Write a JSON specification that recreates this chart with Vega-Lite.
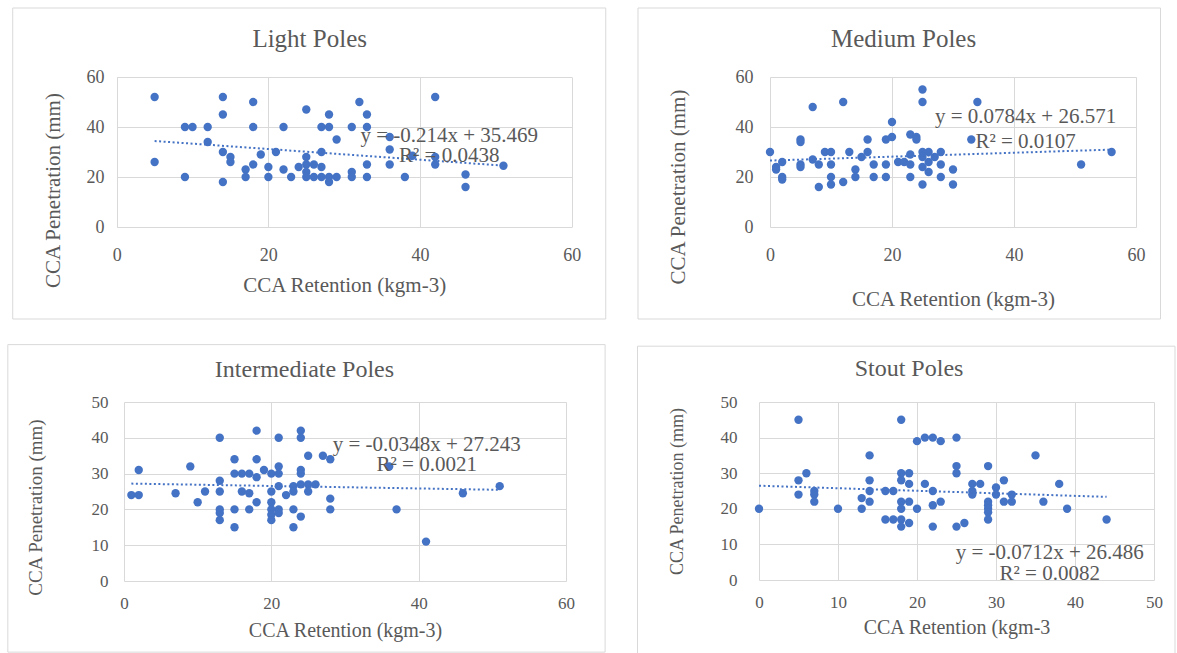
{
  "$schema": "https://vega.github.io/schema/vega-lite/v6.json",
  "background": "white",
  "padding": {"left": 7, "top": 7, "right": 0, "bottom": 0},
  "config": {
    "font": "Liberation Serif",
    "view": {"stroke": null},
    "axis": {"grid": true, "gridColor": "#d9d9d9", "gridWidth": 1, "domain": false, "ticks": false, "labelFlush": false, "labelOverlap": false, "labelColor": "#595959", "titleColor": "#595959", "labelFont": "Liberation Serif", "titleFont": "Liberation Serif", "titleFontWeight": "normal", "labelFontSize": 18, "titleFontSize": 21},
    "point": {"filled": true, "color": "#4472C4", "opacity": 1, "size": 70}
  },
  "datasets": {
    "light": [
      {"retention": 5, "penetration": 52}, {"retention": 5, "penetration": 26}, {"retention": 9, "penetration": 20}, {"retention": 9, "penetration": 40}, {"retention": 10, "penetration": 40}, {"retention": 12, "penetration": 40}, {"retention": 12, "penetration": 34}, {"retention": 14, "penetration": 52}, {"retention": 14, "penetration": 45}, {"retention": 14, "penetration": 30}, {"retention": 14, "penetration": 18}, {"retention": 15, "penetration": 28}, {"retention": 15, "penetration": 26}, {"retention": 17, "penetration": 23}, {"retention": 17, "penetration": 20}, {"retention": 18, "penetration": 25}, {"retention": 18, "penetration": 50}, {"retention": 18, "penetration": 40}, {"retention": 19, "penetration": 29}, {"retention": 20, "penetration": 24}, {"retention": 20, "penetration": 20}, {"retention": 21, "penetration": 30}, {"retention": 22, "penetration": 40}, {"retention": 22, "penetration": 23}, {"retention": 23, "penetration": 20}, {"retention": 24, "penetration": 24}, {"retention": 25, "penetration": 28}, {"retention": 25, "penetration": 25}, {"retention": 25, "penetration": 22}, {"retention": 25, "penetration": 47}, {"retention": 25, "penetration": 20}, {"retention": 26, "penetration": 25}, {"retention": 26, "penetration": 20}, {"retention": 27, "penetration": 30}, {"retention": 27, "penetration": 24}, {"retention": 27, "penetration": 40}, {"retention": 27, "penetration": 20}, {"retention": 28, "penetration": 45}, {"retention": 28, "penetration": 40}, {"retention": 28, "penetration": 18}, {"retention": 28, "penetration": 20}, {"retention": 29, "penetration": 35}, {"retention": 29, "penetration": 20}, {"retention": 31, "penetration": 40}, {"retention": 31, "penetration": 22}, {"retention": 31, "penetration": 20}, {"retention": 32, "penetration": 50}, {"retention": 33, "penetration": 45}, {"retention": 33, "penetration": 40}, {"retention": 33, "penetration": 25}, {"retention": 33, "penetration": 20}, {"retention": 36, "penetration": 36}, {"retention": 36, "penetration": 31}, {"retention": 36, "penetration": 25}, {"retention": 38, "penetration": 20}, {"retention": 39, "penetration": 28.5}, {"retention": 42, "penetration": 52}, {"retention": 42, "penetration": 28}, {"retention": 42, "penetration": 25}, {"retention": 46, "penetration": 21}, {"retention": 46, "penetration": 16}, {"retention": 51, "penetration": 24.5}
    ],
    "lightFit": [{"retention": 5, "fit": 34.399}, {"retention": 51.2, "fit": 24.512}],
    "lightEq": [{"equation": "y = -0.214x + 35.469\nR² = 0.0438"}],
    "lightTitle": [{"title": "Light Poles"}],
    "medium": [
      {"retention": 0, "penetration": 30}, {"retention": 1, "penetration": 24}, {"retention": 1, "penetration": 23}, {"retention": 2, "penetration": 26}, {"retention": 2, "penetration": 20}, {"retention": 2, "penetration": 19}, {"retention": 5, "penetration": 35}, {"retention": 5, "penetration": 34}, {"retention": 5, "penetration": 25}, {"retention": 5, "penetration": 24}, {"retention": 7, "penetration": 48}, {"retention": 7, "penetration": 27}, {"retention": 8, "penetration": 25}, {"retention": 8, "penetration": 16}, {"retention": 9, "penetration": 30}, {"retention": 10, "penetration": 30}, {"retention": 10, "penetration": 25}, {"retention": 10, "penetration": 20}, {"retention": 10, "penetration": 17}, {"retention": 12, "penetration": 50}, {"retention": 12, "penetration": 18}, {"retention": 13, "penetration": 30}, {"retention": 14, "penetration": 23}, {"retention": 14, "penetration": 20}, {"retention": 15, "penetration": 28}, {"retention": 16, "penetration": 30}, {"retention": 16, "penetration": 35}, {"retention": 17, "penetration": 25}, {"retention": 17, "penetration": 20}, {"retention": 19, "penetration": 35}, {"retention": 19, "penetration": 25}, {"retention": 19, "penetration": 20}, {"retention": 20, "penetration": 42}, {"retention": 20, "penetration": 36}, {"retention": 21, "penetration": 26}, {"retention": 22, "penetration": 26}, {"retention": 23, "penetration": 37}, {"retention": 23, "penetration": 29}, {"retention": 23, "penetration": 25}, {"retention": 23, "penetration": 20}, {"retention": 24, "penetration": 36}, {"retention": 24, "penetration": 35}, {"retention": 25, "penetration": 55}, {"retention": 25, "penetration": 50}, {"retention": 25, "penetration": 30}, {"retention": 25, "penetration": 28}, {"retention": 25, "penetration": 24}, {"retention": 25, "penetration": 17}, {"retention": 26, "penetration": 30}, {"retention": 26, "penetration": 26}, {"retention": 26, "penetration": 22}, {"retention": 27, "penetration": 28}, {"retention": 28, "penetration": 30}, {"retention": 28, "penetration": 25}, {"retention": 28, "penetration": 20}, {"retention": 30, "penetration": 23}, {"retention": 30, "penetration": 17}, {"retention": 33, "penetration": 35}, {"retention": 34, "penetration": 50}, {"retention": 51, "penetration": 25}, {"retention": 56, "penetration": 30}
    ],
    "mediumFit": [{"retention": 0, "fit": 26.571}, {"retention": 56, "fit": 30.961}],
    "mediumEq": [{"equation": "y = 0.0784x + 26.571\nR² = 0.0107"}],
    "mediumTitle": [{"title": "Medium Poles"}],
    "intermediate": [
      {"retention": 1, "penetration": 24}, {"retention": 2, "penetration": 24}, {"retention": 2, "penetration": 31}, {"retention": 7, "penetration": 24.5}, {"retention": 9, "penetration": 32}, {"retention": 10, "penetration": 22}, {"retention": 11, "penetration": 25}, {"retention": 13, "penetration": 40}, {"retention": 13, "penetration": 28}, {"retention": 13, "penetration": 25}, {"retention": 13, "penetration": 20}, {"retention": 13, "penetration": 19}, {"retention": 13, "penetration": 17}, {"retention": 15, "penetration": 34}, {"retention": 15, "penetration": 30}, {"retention": 15, "penetration": 20}, {"retention": 15, "penetration": 15}, {"retention": 16, "penetration": 30}, {"retention": 17, "penetration": 30}, {"retention": 16, "penetration": 25}, {"retention": 17, "penetration": 24.5}, {"retention": 17, "penetration": 20}, {"retention": 18, "penetration": 42}, {"retention": 18, "penetration": 34}, {"retention": 18, "penetration": 29}, {"retention": 18, "penetration": 22}, {"retention": 19, "penetration": 31}, {"retention": 20, "penetration": 30}, {"retention": 20, "penetration": 25}, {"retention": 20, "penetration": 22}, {"retention": 20, "penetration": 20}, {"retention": 20, "penetration": 18.5}, {"retention": 20, "penetration": 17}, {"retention": 21, "penetration": 40}, {"retention": 21, "penetration": 32}, {"retention": 21, "penetration": 30}, {"retention": 21, "penetration": 26.5}, {"retention": 21, "penetration": 20}, {"retention": 21, "penetration": 19}, {"retention": 22, "penetration": 24}, {"retention": 23, "penetration": 26.5}, {"retention": 23, "penetration": 25}, {"retention": 23, "penetration": 20}, {"retention": 23, "penetration": 15}, {"retention": 24, "penetration": 42}, {"retention": 24, "penetration": 40}, {"retention": 24, "penetration": 31}, {"retention": 24, "penetration": 30}, {"retention": 24, "penetration": 27}, {"retention": 24, "penetration": 18}, {"retention": 25, "penetration": 35}, {"retention": 25, "penetration": 27}, {"retention": 25, "penetration": 25}, {"retention": 26, "penetration": 27}, {"retention": 27, "penetration": 35}, {"retention": 28, "penetration": 34}, {"retention": 28, "penetration": 23}, {"retention": 28, "penetration": 20}, {"retention": 36, "penetration": 32}, {"retention": 37, "penetration": 20}, {"retention": 41, "penetration": 11}, {"retention": 46, "penetration": 24.5}, {"retention": 51, "penetration": 26.5}
    ],
    "intermediateFit": [{"retention": 1, "fit": 27.208}, {"retention": 51, "fit": 25.468}],
    "intermediateEq": [{"equation": "y = -0.0348x + 27.243\nR² = 0.0021"}],
    "intermediateTitle": [{"title": "Intermediate Poles"}],
    "stout": [
      {"retention": 0, "penetration": 20}, {"retention": 5, "penetration": 45}, {"retention": 5, "penetration": 28}, {"retention": 5, "penetration": 24}, {"retention": 6, "penetration": 30}, {"retention": 7, "penetration": 25}, {"retention": 7, "penetration": 24}, {"retention": 7, "penetration": 22}, {"retention": 10, "penetration": 20}, {"retention": 13, "penetration": 23}, {"retention": 13, "penetration": 20}, {"retention": 14, "penetration": 35}, {"retention": 14, "penetration": 28}, {"retention": 14, "penetration": 25}, {"retention": 14, "penetration": 22}, {"retention": 16, "penetration": 25}, {"retention": 17, "penetration": 25}, {"retention": 16, "penetration": 17}, {"retention": 17, "penetration": 17}, {"retention": 18, "penetration": 45}, {"retention": 18, "penetration": 30}, {"retention": 18, "penetration": 28}, {"retention": 18, "penetration": 22}, {"retention": 18, "penetration": 20}, {"retention": 18, "penetration": 17}, {"retention": 18, "penetration": 15}, {"retention": 19, "penetration": 30}, {"retention": 19, "penetration": 27}, {"retention": 19, "penetration": 22}, {"retention": 19, "penetration": 16}, {"retention": 20, "penetration": 39}, {"retention": 20, "penetration": 20}, {"retention": 21, "penetration": 40}, {"retention": 22, "penetration": 40}, {"retention": 21, "penetration": 27}, {"retention": 22, "penetration": 25}, {"retention": 22, "penetration": 21}, {"retention": 22, "penetration": 15}, {"retention": 23, "penetration": 39}, {"retention": 23, "penetration": 22}, {"retention": 25, "penetration": 40}, {"retention": 25, "penetration": 32}, {"retention": 25, "penetration": 30}, {"retention": 25, "penetration": 15}, {"retention": 26, "penetration": 16}, {"retention": 27, "penetration": 27}, {"retention": 28, "penetration": 27}, {"retention": 27, "penetration": 25}, {"retention": 27, "penetration": 24}, {"retention": 29, "penetration": 32}, {"retention": 29, "penetration": 22}, {"retention": 29, "penetration": 21}, {"retention": 29, "penetration": 20}, {"retention": 29, "penetration": 19}, {"retention": 29, "penetration": 17}, {"retention": 30, "penetration": 26}, {"retention": 30, "penetration": 24}, {"retention": 31, "penetration": 28}, {"retention": 31, "penetration": 22}, {"retention": 32, "penetration": 24}, {"retention": 32, "penetration": 22}, {"retention": 35, "penetration": 35}, {"retention": 36, "penetration": 22}, {"retention": 38, "penetration": 27}, {"retention": 39, "penetration": 20}, {"retention": 44, "penetration": 17}
    ],
    "stoutFit": [{"retention": 0, "fit": 26.486}, {"retention": 44, "fit": 23.353}],
    "stoutEq": [{"equation": "y = -0.0712x + 26.486\nR² = 0.0082"}],
    "stoutTitle": [{"title": "Stout Poles"}],
    "frame": [{"part": "frame"}]
  },
  "columns": 1,
  "align": "none",
  "spacing": 24,
  "concat": [
    {
      "spacing": 30,
      "hconcat": [
        {
          "width": 447.7, "height": 150,
          "layer": [
            {
              "data": {"name": "light"},
              "mark": {"type": "point"},
              "encoding": {
                "x": {"field": "retention", "type": "quantitative", "scale": {"domain": [0, 60], "nice": false, "range": [-7.3, 447.7]}, "axis": {"values": [0, 20, 40, 60], "title": "CCA Retention (kgm-3)", "labelPadding": 19, "titleY": 58.3, "titleX": 220.2, "titleBaseline": "middle", "labelOverlap": false}},
                "y": {"field": "penetration", "type": "quantitative", "scale": {"domain": [0, 60], "nice": false}, "axis": {"values": [0, 20, 40, 60], "title": "CCA Penetration  (mm)", "labelPadding": 20, "titleX": -71, "titleY": 113, "titleBaseline": "middle", "titleAlign": "center", "labelOverlap": false}}
              }
            },
            {
              "data": {"name": "frame"},
              "mark": {"type": "rect", "filled": false, "stroke": "#d9d9d9", "strokeWidth": 1},
              "encoding": {"x": {"datum": -13.71, "type": "quantitative"}, "x2": {"datum": 64.49}, "y": {"datum": 87.6, "type": "quantitative"}, "y2": {"datum": -36.8}}
            },
            {
              "data": {"name": "lightTitle"},
              "mark": {"type": "text", "align": "center", "baseline": "middle", "fontSize": 25, "color": "#595959"},
              "encoding": {"x": {"datum": 25.45, "type": "quantitative"}, "y": {"datum": 75.2, "type": "quantitative"}, "text": {"field": "title"}}
            },
            {
              "data": {"name": "lightFit"},
              "mark": {"type": "line", "color": "#4472C4", "strokeWidth": 2, "strokeDash": [2, 2.5]},
              "encoding": {"x": {"field": "retention", "type": "quantitative"}, "y": {"field": "fit", "type": "quantitative"}}
            },
            {
              "data": {"name": "lightEq"},
              "mark": {"type": "text", "align": "center", "baseline": "middle", "lineBreak": "\n", "lineHeight": 19.3, "fontSize": 21, "color": "#595959"},
              "encoding": {"x": {"datum": 43.85, "type": "quantitative"}, "y": {"datum": 36.24, "type": "quantitative"}, "text": {"field": "equation"}}
            }
          ]
        },
        {
          "width": 366, "height": 150,
          "layer": [
            {
              "data": {"name": "medium"},
              "mark": {"type": "point"},
              "encoding": {
                "x": {"field": "retention", "type": "quantitative", "scale": {"domain": [0, 60], "nice": false}, "axis": {"values": [0, 20, 40, 60], "title": "CCA Retention (kgm-3)", "labelPadding": 19, "titleY": 72.3, "titleBaseline": "middle", "labelOverlap": false}},
                "y": {"field": "penetration", "type": "quantitative", "scale": {"domain": [0, 60], "nice": false}, "axis": {"values": [0, 20, 40, 60], "title": "CCA Penetration  (mm)", "labelPadding": 17, "titleX": -92, "titleY": 109.5, "titleBaseline": "middle", "titleAlign": "center", "labelOverlap": false}}
              }
            },
            {
              "data": {"name": "frame"},
              "mark": {"type": "rect", "filled": false, "stroke": "#d9d9d9", "strokeWidth": 1},
              "encoding": {"x": {"datum": -21.64, "type": "quantitative"}, "x2": {"datum": 64.02}, "y": {"datum": 87.6, "type": "quantitative"}, "y2": {"datum": -36.8}}
            },
            {
              "data": {"name": "mediumTitle"},
              "mark": {"type": "text", "align": "center", "baseline": "middle", "fontSize": 25, "color": "#595959"},
              "encoding": {"x": {"datum": 21.9, "type": "quantitative"}, "y": {"datum": 75.2, "type": "quantitative"}, "text": {"field": "title"}}
            },
            {
              "data": {"name": "mediumFit"},
              "mark": {"type": "line", "color": "#4472C4", "strokeWidth": 2, "strokeDash": [2, 2.5]},
              "encoding": {"x": {"field": "retention", "type": "quantitative"}, "y": {"field": "fit", "type": "quantitative"}}
            },
            {
              "data": {"name": "mediumEq"},
              "mark": {"type": "text", "align": "center", "baseline": "middle", "lineBreak": "\n", "lineHeight": 25, "fontSize": 21, "color": "#595959"},
              "encoding": {"x": {"datum": 41.9, "type": "quantitative"}, "y": {"datum": 43.96, "type": "quantitative"}, "text": {"field": "equation"}}
            }
          ]
        }
      ]
    },
    {
      "spacing": 30,
      "hconcat": [
        {
          "width": 442, "height": 179,
          "layer": [
            {
              "data": {"name": "intermediate"},
              "mark": {"type": "point"},
              "encoding": {
                "x": {"field": "retention", "type": "quantitative", "scale": {"domain": [0, 60], "nice": false}, "axis": {"values": [0, 20, 40, 60], "title": "CCA Retention (kgm-3)", "labelFontSize": 17, "titleFontSize": 20, "labelPadding": 14, "titleY": 49, "titleBaseline": "middle", "labelOverlap": false}},
                "y": {"field": "penetration", "type": "quantitative", "scale": {"domain": [0, 50], "nice": false}, "axis": {"values": [0, 10, 20, 30, 40, 50], "tickCount": 6, "title": "CCA Penetration  (mm)", "labelFontSize": 17, "titleFontSize": 19, "labelPadding": 16, "titleX": -89, "titleY": 105, "titleBaseline": "middle", "titleAlign": "center", "labelOverlap": false}}
              }
            },
            {
              "data": {"name": "frame"},
              "mark": {"type": "rect", "filled": false, "stroke": "#d9d9d9", "strokeWidth": 1},
              "encoding": {"x": {"datum": -15.77, "type": "quantitative"}, "x2": {"datum": 65.31}, "y": {"datum": 66.03, "type": "quantitative"}, "y2": {"datum": -19.87}}
            },
            {
              "data": {"name": "intermediateTitle"},
              "mark": {"type": "text", "align": "center", "baseline": "middle", "fontSize": 24, "color": "#595959"},
              "encoding": {"x": {"datum": 24.5, "type": "quantitative"}, "y": {"datum": 59.04, "type": "quantitative"}, "text": {"field": "title"}}
            },
            {
              "data": {"name": "intermediateFit"},
              "mark": {"type": "line", "color": "#4472C4", "strokeWidth": 2, "strokeDash": [2, 2.5]},
              "encoding": {"x": {"field": "retention", "type": "quantitative"}, "y": {"field": "fit", "type": "quantitative"}}
            },
            {
              "data": {"name": "intermediateEq"},
              "mark": {"type": "text", "align": "center", "baseline": "middle", "lineBreak": "\n", "lineHeight": 19.8, "fontSize": 21, "color": "#595959"},
              "encoding": {"x": {"datum": 41.1, "type": "quantitative"}, "y": {"datum": 37.9, "type": "quantitative"}, "text": {"field": "equation"}}
            }
          ]
        },
        {
          "width": 395, "height": 178,
          "layer": [
            {
              "data": {"name": "stout"},
              "mark": {"type": "point"},
              "encoding": {
                "x": {"field": "retention", "type": "quantitative", "scale": {"domain": [0, 50], "nice": false}, "axis": {"values": [0, 10, 20, 30, 40, 50], "title": "CCA Retention (kgm-3", "labelFontSize": 17, "titleFontSize": 20, "labelPadding": 14, "titleY": 47, "titleBaseline": "middle", "labelOverlap": false}},
                "y": {"field": "penetration", "type": "quantitative", "scale": {"domain": [0, 50], "nice": false}, "axis": {"values": [0, 10, 20, 30, 40, 50], "tickCount": 6, "title": "CCA Penetration  (mm)", "labelFontSize": 17, "titleFontSize": 18, "labelPadding": 22, "titleX": -82, "titleY": 89, "titleBaseline": "middle", "titleAlign": "center", "labelOverlap": false}}
              }
            },
            {
              "data": {"name": "frame"},
              "mark": {"type": "rect", "filled": false, "stroke": "#d9d9d9", "strokeWidth": 1},
              "encoding": {"x": {"datum": -15.38, "type": "quantitative"}, "x2": {"datum": 52.66}, "y": {"datum": 65.68, "type": "quantitative"}, "y2": {"datum": -20.66}}
            },
            {
              "data": {"name": "stoutTitle"},
              "mark": {"type": "text", "align": "center", "baseline": "middle", "fontSize": 24, "color": "#595959"},
              "encoding": {"x": {"datum": 18.99, "type": "quantitative"}, "y": {"datum": 59.2, "type": "quantitative"}, "text": {"field": "title"}}
            },
            {
              "data": {"name": "stoutFit"},
              "mark": {"type": "line", "color": "#4472C4", "strokeWidth": 2, "strokeDash": [2, 2.5]},
              "encoding": {"x": {"field": "retention", "type": "quantitative"}, "y": {"field": "fit", "type": "quantitative"}}
            },
            {
              "data": {"name": "stoutEq"},
              "mark": {"type": "text", "align": "center", "baseline": "middle", "lineBreak": "\n", "lineHeight": 20.5, "fontSize": 21, "color": "#595959"},
              "encoding": {"x": {"datum": 36.8, "type": "quantitative"}, "y": {"datum": 7.57, "type": "quantitative"}, "text": {"field": "equation"}}
            }
          ]
        }
      ]
    }
  ]
}
